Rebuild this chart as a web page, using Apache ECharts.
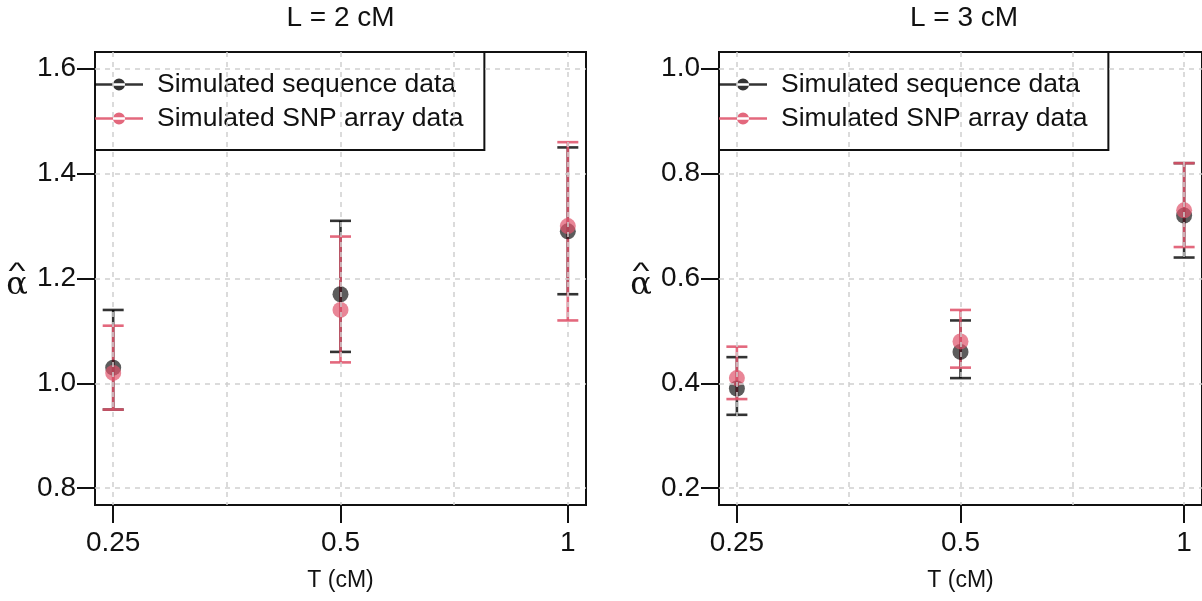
<!DOCTYPE html>
<html>
<head>
<meta charset="utf-8">
<script src="https://cdn.jsdelivr.net/npm/echarts@6/dist/echarts.min.js"></script>
<style>html,body{margin:0;padding:0;background:#fff}#chart{width:1202px;height:601px}</style>
</head>
<body>
<div id="chart"></div>
<script>
// ---- data ----
const T_VALUES = [0.25, 0.5, 1];           // T (cM)
const X_TICK_LABELS = ['0.25', '0.5', '1'];
const X_GRID_LOG2 = [-2, -1.5, -1, -0.5, 0];
const PANEL_TITLES = ['L = 2 cM', 'L = 3 cM'];
const SEQ_NAME = 'Simulated sequence data';
const SNP_NAME = 'Simulated SNP array data';

const Y_TICKS_L2 = [0.8, 1.0, 1.2, 1.4, 1.6];
const Y_TICKS_L3 = [0.2, 0.4, 0.6, 0.8, 1.0];

const seqL2Mean = [1.03, 1.17, 1.29];
const seqL2Low  = [0.95, 1.06, 1.17];
const seqL2High = [1.14, 1.31, 1.45];
const snpL2Mean = [1.02, 1.14, 1.30];
const snpL2Low  = [0.95, 1.04, 1.12];
const snpL2High = [1.11, 1.28, 1.46];

const seqL3Mean = [0.39, 0.46, 0.72];
const seqL3Low  = [0.34, 0.41, 0.64];
const seqL3High = [0.45, 0.52, 0.82];
const snpL3Mean = [0.41, 0.48, 0.73];
const snpL3Low  = [0.37, 0.43, 0.66];
const snpL3High = [0.47, 0.54, 0.82];

// ---- style ----
const FONT = 'Liberation Sans, Arial, Helvetica, sans-serif';
const SEQ_COLOR = 'rgba(0,0,0,0.8)';
const SNP_COLOR = 'rgba(223,83,107,0.88)';
const INK = '#111';
const GRIDLINE = {color: '#cfcfcf', type: [5, 5], width: 1.5};
const LEGEND_ICON = 'path://M0,5h48v2.4H0z M18,6.2a6,6 0 1,0 12,0a6,6 0 1,0 -12,0z';

const lx = T_VALUES.map(t => Math.log2(t));
const tickLog = T_VALUES.map(t => Math.log2(t));
const labelOf = {};
tickLog.forEach((v, i) => { labelOf[v] = X_TICK_LABELS[i]; });

function errData(low, high) { return lx.map((x, i) => [x, low[i], high[i]]); }
function ptData(mean) { return lx.map((x, i) => [x, mean[i]]); }

function errSeries(name, color, xi, yi, low, high) {
  return {
    type: 'custom', name, xAxisIndex: xi, yAxisIndex: yi, clip: false,
    itemStyle: {color},
    data: errData(low, high),
    renderItem: function (params, api) {
      const x = api.value(0);
      const a = api.coord([x, api.value(1)]);
      const b = api.coord([x, api.value(2)]);
      const hw = 10.5;
      const st = {stroke: color, lineWidth: 2.6, fill: null};
      return {type: 'group', children: [
        {type: 'line', shape: {x1: a[0], y1: a[1], x2: b[0], y2: b[1]}, style: st},
        {type: 'line', shape: {x1: a[0] - hw, y1: a[1], x2: a[0] + hw, y2: a[1]}, style: st},
        {type: 'line', shape: {x1: b[0] - hw, y1: b[1], x2: b[0] + hw, y2: b[1]}, style: st}
      ]};
    }
  };
}
function ptSeries(name, color, xi, yi, mean) {
  return {type: 'scatter', name, xAxisIndex: xi, yAxisIndex: yi, symbolSize: 16,
    itemStyle: {color}, data: ptData(mean), emphasis: {disabled: true}};
}

const GRID_L = {left: 95, top: 52, width: 491, height: 453};
const GRID_R = {left: 719, top: 52, width: 490, height: 453};

function xTickAxis(gi) {
  return {gridIndex: gi, type: 'value', min: -2.08, max: 0.08, z: 10,
    axisLine: {show: false, onZero: false},
    axisTick: {show: true, length: 18, customValues: tickLog, lineStyle: {color: INK, width: 2}},
    axisLabel: {customValues: tickLog, formatter: v => labelOf[v] !== undefined ? labelOf[v] : '',
      fontSize: 28, fontFamily: FONT, color: INK, margin: 24},
    splitLine: {show: false},
    name: 'T (cM)', nameLocation: 'middle', nameGap: 64,
    nameTextStyle: {fontSize: 23, fontFamily: FONT, color: INK}
  };
}
function xGridAxis(gi) {
  return {gridIndex: gi, type: 'value', min: -2.08, max: 0.08, z: 10,
    axisLine: {show: false, onZero: false},
    axisTick: {show: false, customValues: X_GRID_LOG2},
    axisLabel: {show: false, customValues: X_GRID_LOG2},
    splitLine: {show: true, lineStyle: GRIDLINE}
  };
}
function yAxis(gi, ticks, min, max) {
  return {gridIndex: gi, type: 'value', min, max, z: 10,
    axisLine: {show: false, onZero: false},
    axisTick: {show: true, length: 18, customValues: ticks, lineStyle: {color: INK, width: 2}},
    axisLabel: {customValues: ticks, formatter: v => v.toFixed(1),
      fontSize: 28, fontFamily: FONT, color: INK, margin: 19},
    splitLine: {show: true, lineStyle: GRIDLINE}
  };
}
function legend(left) {
  return {
    orient: 'vertical', left, top: 52,
    padding: [19, 21, 18, 0], itemGap: 7, itemWidth: 48, itemHeight: 12,
    borderColor: INK, borderWidth: 2, borderRadius: 0,
    selectedMode: false,
    textStyle: {fontSize: 26.5, fontFamily: FONT, color: INK, lineHeight: 26, padding: [0, 0, 0, 9]},
    data: [
      {name: SEQ_NAME, icon: LEGEND_ICON, itemStyle: {color: SEQ_COLOR}},
      {name: SNP_NAME, icon: LEGEND_ICON, itemStyle: {color: SNP_COLOR}}
    ]
  };
}
function alphaHat(x) {
  return [
    {type: 'text', x: x, y: 286, style: {text: 'α', fontSize: 32, fontFamily: 'DejaVu Serif, serif', fill: INK, align: 'center', verticalAlign: 'middle'}},
    {type: 'text', x: x, y: 272, scaleX: 1.5, style: {text: '^', fontSize: 24, fontFamily: FONT, fill: INK, align: 'center', verticalAlign: 'middle'}}
  ];
}

const chart = echarts.init(document.getElementById('chart'), null, {renderer: 'canvas'});
chart.setOption({
  animation: false,
  backgroundColor: '#fff',
  grid: [
    Object.assign({show: true, borderColor: INK, borderWidth: 2, backgroundColor: 'transparent'}, GRID_L),
    Object.assign({show: true, borderColor: INK, borderWidth: 2, backgroundColor: 'transparent'}, GRID_R)
  ],
  xAxis: [xTickAxis(0), xGridAxis(0), xTickAxis(1), xGridAxis(1)],
  yAxis: [yAxis(0, Y_TICKS_L2, 0.768, 1.632), yAxis(1, Y_TICKS_L3, 0.168, 1.032)],
  legend: [legend(95), legend(719)],
  graphic: [
    {type: 'text', x: 340.5, y: 18, style: {text: PANEL_TITLES[0], fontSize: 28, fontFamily: FONT, fill: INK, align: 'center', verticalAlign: 'middle'}},
    {type: 'text', x: 964, y: 18, style: {text: PANEL_TITLES[1], fontSize: 28, fontFamily: FONT, fill: INK, align: 'center', verticalAlign: 'middle'}},
    ...alphaHat(17), ...alphaHat(641)
  ],
  series: [
    errSeries(SEQ_NAME, SEQ_COLOR, 0, 0, seqL2Low, seqL2High),
    ptSeries(SEQ_NAME, SEQ_COLOR, 0, 0, seqL2Mean),
    errSeries(SNP_NAME, SNP_COLOR, 0, 0, snpL2Low, snpL2High),
    ptSeries(SNP_NAME, SNP_COLOR, 0, 0, snpL2Mean),
    errSeries(SEQ_NAME, SEQ_COLOR, 2, 1, seqL3Low, seqL3High),
    ptSeries(SEQ_NAME, SEQ_COLOR, 2, 1, seqL3Mean),
    errSeries(SNP_NAME, SNP_COLOR, 2, 1, snpL3Low, snpL3High),
    ptSeries(SNP_NAME, SNP_COLOR, 2, 1, snpL3Mean)
  ]
});
</script>
</body>
</html>
